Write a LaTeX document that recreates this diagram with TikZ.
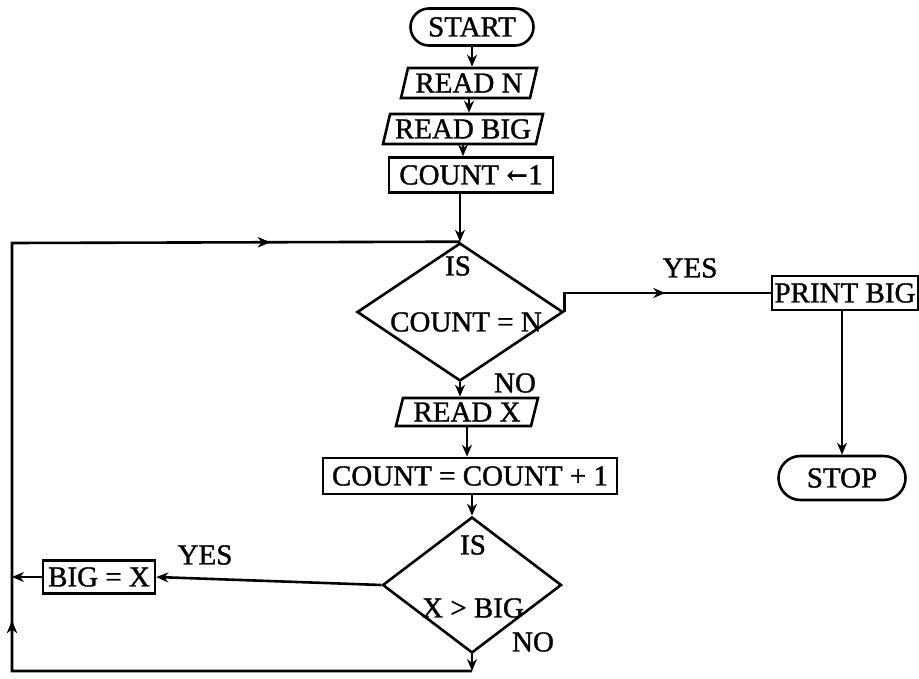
\documentclass[tikz,border=0pt]{standalone}
\usepackage{fontspec}
\setmainfont{Liberation Serif}[BoldFont={Liberation Serif},BoldFeatures={FakeBold=1.2}]
\newfontfamily\arrowfont{DejaVu Serif}
\usetikzlibrary{shapes.geometric,shapes.misc,arrows.meta,decorations.markings}
\begin{document}
\begin{tikzpicture}[x=1pt,y=-1pt,
  font=\fontsize{29}{31}\selectfont\bfseries,
  line width=2.6pt,
  >={Stealth[length=12pt,width=10pt]},
  term/.style={draw, rounded rectangle, inner sep=0pt},
  io/.style={draw, trapezium, trapezium left angle=70, trapezium right angle=110,
             trapezium stretches body, inner sep=0pt},
  proc/.style={draw, rectangle, inner sep=0pt},
  decision/.style={draw, diamond, inner sep=0pt},
  lbl/.style={inner sep=0pt},
  arrowat/.style={postaction={decorate},
     decoration={markings, mark=at position #1 with {\arrow{>}}}}
]
\useasboundingbox (0,0) rectangle (919,679);

% main column
\node[term, minimum width=123pt, minimum height=37pt] (start) at (472,27) {START};
\node[io, minimum width=136pt, minimum height=30pt] (readn) at (469,83) {READ N};
\node[io, minimum width=160pt, minimum height=30pt] (readbig) at (463,129) {READ BIG};
\node[proc, minimum width=164pt, minimum height=35pt] (count1) at (471,175) {COUNT {\arrowfont\fontsize{26}{28}\selectfont ←}1};
\node[decision, minimum width=206pt, minimum height=138pt] (d1) at (460,312) {};
\node[lbl] (is1) at (458,266) {IS};
\node[lbl] (cn) at (466,322) {COUNT = N};
\node[lbl] (no1) at (515,383) {NO};
\node[io, minimum width=142pt, minimum height=28pt] (readx) at (467,412) {READ X};
\node[proc, minimum width=294pt, minimum height=36pt] (count2) at (470,476) {COUNT = COUNT + 1};
\node[decision, minimum width=179pt, minimum height=136pt] (d2) at (472,585) {};
\node[lbl] (is2) at (473,545) {IS};
\node[lbl] (xbig) at (473,608) {X > BIG};
\node[lbl] (no2) at (533,642) {NO};

% branches
\node[lbl] (yes1) at (690,268) {YES};
\node[proc, minimum width=146pt, minimum height=34pt] (printbig) at (845,293) {PRINT BIG};
\node[term, minimum width=127pt, minimum height=44pt] (stop) at (842,478) {STOP};
\node[lbl] (yes2) at (205,555) {YES};
\node[proc, minimum width=112pt, minimum height=33pt] (bigx) at (99,577) {BIG = X};

% loop corners
\coordinate (bl) at (12,671);
\coordinate (tl) at (12,243);
\coordinate (bj) at (d2.south |- bl);
\coordinate (lj) at (tl |- bigx.west);

% connectors
\draw[->] (start.south) -- (start.south |- readn.north);
\draw[->] (readn.south) -- (readn.south |- readbig.north);
\draw[->] (readbig.south) -- (readbig.south |- count1.north);
\draw[->] (d1.north |- count1.south) -- (d1.north);
\draw[->] (d1.south) -- (d1.south |- readx.north);
\draw[->] (readx.south) -- (readx.south |- count2.north);
\draw[->] (d2.north |- count2.south) -- (d2.north);
\draw[arrowat=120pt] (d1.east) |- (printbig.west);
\draw[->] (printbig.south -| stop.north) -- (stop.north);
\draw[->] (d2.west) -- (bigx.east);
\draw[->] (bigx.west) -- (lj);
\draw[->] (d2.south) -- (bj);
\draw[arrowat=510pt, arrowat=1146pt] (bj) -- (bl) -- (tl) -- (d1.north);
\end{tikzpicture}
\end{document}
